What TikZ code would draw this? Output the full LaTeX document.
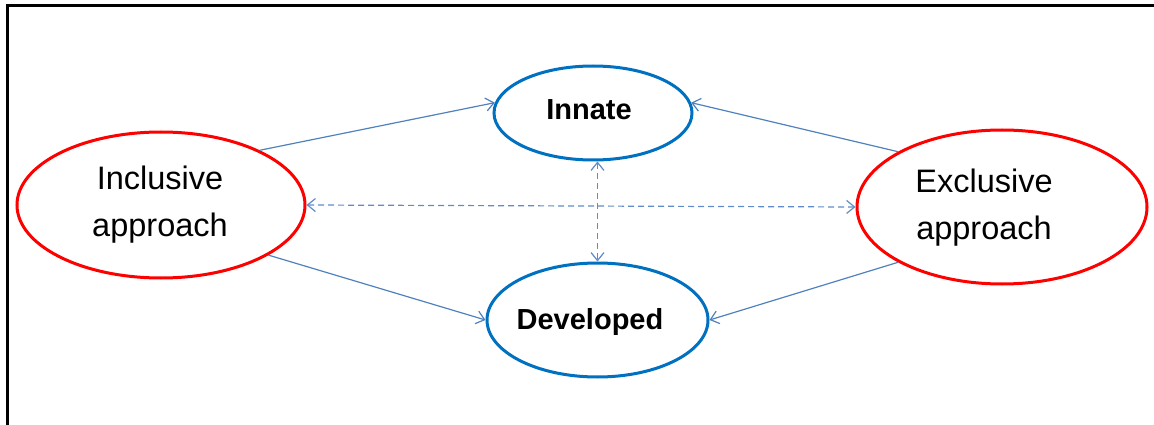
\documentclass[tikz,border=0pt]{standalone}
\usepackage{fontspec}
\setmainfont{Liberation Sans}
\usetikzlibrary{shapes.geometric,arrows.meta}

\definecolor{ringred}{RGB}{255,0,0}
\definecolor{ringblue}{RGB}{0,112,192}
\definecolor{linkblue}{RGB}{79,129,189}
\definecolor{dashblue}{RGB}{95,140,200}

\tikzset{
  approach/.style={ellipse, draw=ringred, line width=3pt, inner sep=0pt, fill=white},
  trait/.style={ellipse, draw=ringblue, line width=3pt, inner sep=0pt, fill=white},
  bigtext/.style={align=center, inner sep=0pt, font=\fontsize{32.5}{47}\selectfont},
  boldtext/.style={inner sep=0pt, font=\fontsize{29}{34}\selectfont\bfseries},
  link/.style={draw=linkblue, line width=1.2pt, -{Straight Barb[length=8pt,width=13pt]}},
  duallink/.style={draw=dashblue, line width=1.2pt, dash pattern=on 6pt off 4pt,
    {Straight Barb[length=8pt,width=13pt]}-{Straight Barb[length=8pt,width=13pt]}}
}

\begin{document}
\begin{tikzpicture}[x=1pt,y=-1pt]
  \useasboundingbox (0,0) rectangle (1154,425);

  % frame (left and top edges)
  \draw[line width=2.8pt] (7.3,426) -- (7.3,5.3) -- (1156,5.3);

  % ellipses
  \node[approach, minimum width=288pt, minimum height=146pt] (inc) at (161,205) {};
  \node[approach, minimum width=290pt, minimum height=154pt] (exc) at (1002,207) {};
  \node[trait, minimum width=198pt, minimum height=94pt] (inn) at (593,113) {};
  \node[trait, minimum width=221pt, minimum height=114pt] (dev) at (597.5,320) {};

  % labels
  \node[bigtext] (inctext) at (160,205) {Inclusive\\approach};
  \node[bigtext] (exctext) at (984,208) {Exclusive\\approach};
  \node[boldtext] (inntext) at (589,109.5) {Innate};
  \node[boldtext] (devtext) at (590,322.5) {Developed};

  % solid links
  \draw[link] (inc.29) -- (inn.174);
  \draw[link] (exc.152) -- (inn.6);
  \draw[link] (inc.-25.5) -- (dev.west);
  \draw[link] (exc.208) -- (dev.east);

  % dashed two-way links
  \draw[duallink] (inc.east) -- (exc.west);
  \draw[duallink] (dev.north |- inn.south) -- (dev.north);
\end{tikzpicture}
\end{document}
